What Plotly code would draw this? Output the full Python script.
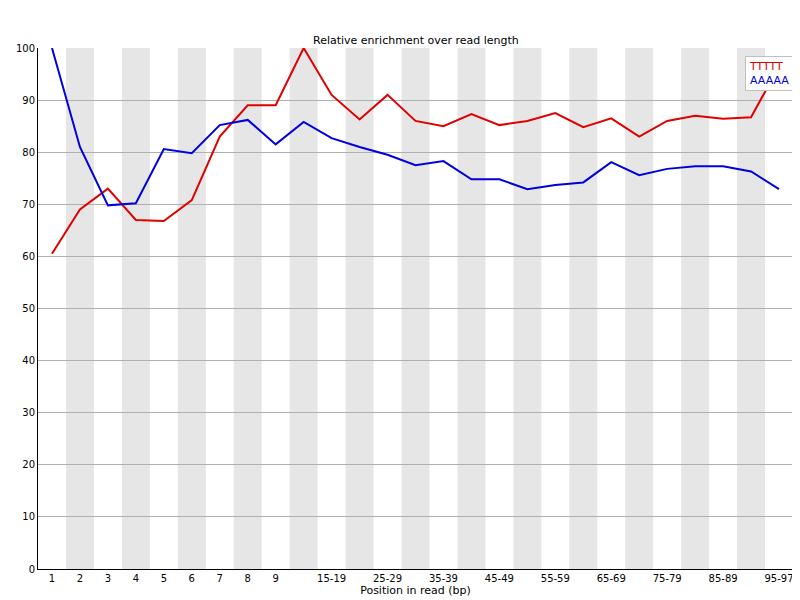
import plotly.graph_objects as go

positions = ["1", "2", "3", "4", "5", "6", "7", "8", "9", "10-14", "15-19", "20-24",
             "25-29", "30-34", "35-39", "40-44", "45-49", "50-54", "55-59", "60-64",
             "65-69", "70-74", "75-79", "80-84", "85-89", "90-94", "95-97"]
tick_labels = ["1", "2", "3", "4", "5", "6", "7", "8", "9", "", "15-19", "", "25-29", "",
               "35-39", "", "45-49", "", "55-59", "", "65-69", "", "75-79", "", "85-89", "", "95-97"]
ttttt = [60.5, 69, 73, 67, 66.8, 70.8, 83, 89, 89, 100, 91, 86.3, 91, 86, 85, 87.3, 85.2,
         86, 87.5, 84.8, 86.5, 83, 86, 87, 86.4, 86.7, 96.5]
aaaaa = [100, 81, 69.8, 70.2, 80.6, 79.8, 85.2, 86.2, 81.5, 85.8, 82.7, 81, 79.5, 77.5,
         78.3, 74.8, 74.8, 72.9, 73.7, 74.2, 78.1, 75.6, 76.8, 77.3, 77.3, 76.3, 72.9]

idx = list(range(len(positions)))
fig = go.Figure()

# alternating grey stripes behind the data
for i in idx:
    if i % 2 == 1:
        fig.add_shape(type="rect", xref="x", yref="y", x0=i - 0.5, x1=i + 0.5, y0=0, y1=100,
                      fillcolor="#e6e6e6", line_width=0, layer="below")

fig.add_trace(go.Scatter(x=idx, y=ttttt, mode="lines", name="TTTTT",
                         line=dict(color="#e00000", width=2), hoverinfo="y"))
fig.add_trace(go.Scatter(x=idx, y=aaaaa, mode="lines", name="AAAAA",
                         line=dict(color="#0000e0", width=2), hoverinfo="y"))

fig.update_layout(
    width=800, height=600,
    margin=dict(l=30, r=15, t=40, b=39),
    paper_bgcolor="white", plot_bgcolor="white",
    font=dict(family="DejaVu Sans", size=10, color="black"),
    showlegend=False,
    xaxis=dict(range=[-0.5, 26.5], tickvals=idx, ticktext=tick_labels, showgrid=False,
               zeroline=False, showline=True, linecolor="black", ticks="", automargin=False,
               title=dict(text="Position in read (bp)", standoff=2, font=dict(size=11))),
    yaxis=dict(range=[0, 100], dtick=10, showgrid=True, gridcolor="#b0b0b0", zeroline=False,
               showline=True, linecolor="black", ticks="", automargin=False,
               layer="below traces"),
)

fig.add_annotation(xref="paper", yref="paper", x=0.5, y=1.0, yshift=16, text="Relative enrichment over read length",
                   showarrow=False, font=dict(size=11))

# legend box
fig.add_annotation(xref="paper", yref="paper", x=1.0, y=0.985, xanchor="right", yanchor="top",
                   text="<span style='color:#e00000'>TTTTT</span><br><span style='color:#0000e0'>AAAAA</span>",
                   showarrow=False, align="left", bgcolor="white", bordercolor="#c0c0c0",
                   borderwidth=1, borderpad=3, font=dict(size=11))

fig.write_html("out.html")
